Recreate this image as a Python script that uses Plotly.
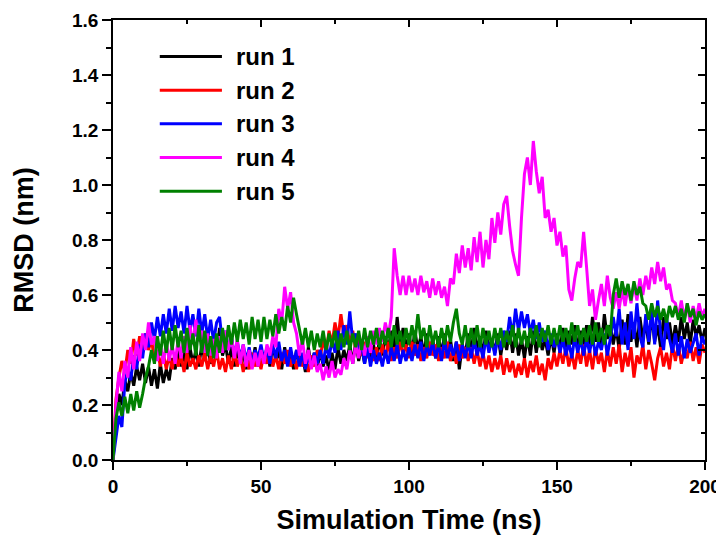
import plotly.graph_objects as go

time_ns = list(range(0, 201))

run1 = [
0.00, 0.17, 0.24, 0.20, 0.29, 0.25, 0.32, 0.27, 0.34, 0.29,
0.35, 0.28, 0.34, 0.27, 0.33, 0.26, 0.35, 0.28, 0.33, 0.29,
0.37, 0.33, 0.40, 0.34, 0.39, 0.33, 0.41, 0.35, 0.40, 0.34,
0.42, 0.36, 0.41, 0.35, 0.45, 0.37, 0.48, 0.38, 0.42, 0.35,
0.41, 0.34, 0.40, 0.35, 0.39, 0.33, 0.40, 0.35, 0.41, 0.34,
0.40, 0.35, 0.41, 0.34, 0.42, 0.36, 0.40, 0.33, 0.41, 0.35,
0.39, 0.33, 0.40, 0.35, 0.38, 0.32, 0.41, 0.34, 0.39, 0.33,
0.40, 0.34, 0.38, 0.32, 0.39, 0.33, 0.41, 0.35, 0.40, 0.36,
0.42, 0.35, 0.43, 0.36, 0.41, 0.35, 0.43, 0.37, 0.42, 0.36,
0.44, 0.38, 0.45, 0.40, 0.47, 0.39, 0.52, 0.41, 0.48, 0.40,
0.46, 0.39, 0.47, 0.40, 0.45, 0.38, 0.46, 0.39, 0.44, 0.37,
0.45, 0.38, 0.46, 0.39, 0.44, 0.36, 0.43, 0.33, 0.42, 0.38,
0.46, 0.39, 0.48, 0.40, 0.45, 0.38, 0.47, 0.40, 0.44, 0.39,
0.46, 0.38, 0.45, 0.40, 0.47, 0.39, 0.46, 0.38, 0.44, 0.37,
0.45, 0.38, 0.47, 0.39, 0.46, 0.40, 0.44, 0.38, 0.45, 0.39,
0.46, 0.40, 0.48, 0.41, 0.47, 0.42, 0.49, 0.40, 0.47, 0.41,
0.49, 0.42, 0.52, 0.43, 0.50, 0.41, 0.53, 0.44, 0.49, 0.42,
0.48, 0.40, 0.51, 0.42, 0.53, 0.43, 0.50, 0.41, 0.52, 0.44,
0.50, 0.42, 0.53, 0.43, 0.49, 0.41, 0.52, 0.44, 0.50, 0.42,
0.49, 0.43, 0.52, 0.44, 0.50, 0.42, 0.51, 0.45, 0.49, 0.43,
0.48]

run2 = [
0.00, 0.22, 0.30, 0.36, 0.32, 0.40, 0.35, 0.44, 0.38, 0.45,
0.39, 0.46, 0.40, 0.44, 0.36, 0.40, 0.34, 0.39, 0.33, 0.38,
0.33, 0.39, 0.34, 0.38, 0.32, 0.39, 0.34, 0.37, 0.33, 0.38,
0.34, 0.39, 0.33, 0.38, 0.34, 0.40, 0.33, 0.37, 0.32, 0.38,
0.33, 0.39, 0.34, 0.38, 0.32, 0.37, 0.33, 0.39, 0.34, 0.38,
0.33, 0.39, 0.35, 0.40, 0.34, 0.38, 0.33, 0.39, 0.35, 0.40,
0.34, 0.38, 0.33, 0.39, 0.34, 0.37, 0.32, 0.38, 0.34, 0.40,
0.37, 0.44, 0.39, 0.47, 0.42, 0.50, 0.44, 0.53, 0.45, 0.49,
0.42, 0.47, 0.40, 0.44, 0.38, 0.43, 0.37, 0.42, 0.36, 0.41,
0.36, 0.42, 0.37, 0.43, 0.36, 0.41, 0.37, 0.43, 0.38, 0.42,
0.37, 0.43, 0.38, 0.42, 0.36, 0.41, 0.37, 0.43, 0.38, 0.42,
0.36, 0.41, 0.37, 0.43, 0.36, 0.40, 0.35, 0.42, 0.37, 0.41,
0.36, 0.41, 0.35, 0.40, 0.34, 0.39, 0.33, 0.38, 0.32, 0.37,
0.33, 0.38, 0.31, 0.37, 0.32, 0.36, 0.30, 0.35, 0.31, 0.37,
0.30, 0.36, 0.32, 0.38, 0.31, 0.35, 0.29, 0.37, 0.33, 0.39,
0.34, 0.40, 0.35, 0.41, 0.34, 0.39, 0.33, 0.40, 0.35, 0.42,
0.34, 0.40, 0.33, 0.41, 0.35, 0.39, 0.32, 0.40, 0.34, 0.41,
0.35, 0.42, 0.32, 0.39, 0.34, 0.41, 0.30, 0.38, 0.35, 0.42,
0.33, 0.40, 0.35, 0.29, 0.37, 0.41, 0.34, 0.39, 0.33, 0.42,
0.36, 0.42, 0.35, 0.40, 0.37, 0.43, 0.36, 0.41, 0.35, 0.42,
0.39]

run3 = [
0.00, 0.09, 0.16, 0.12, 0.28, 0.33, 0.29, 0.38, 0.33, 0.42,
0.37, 0.46, 0.41, 0.50, 0.44, 0.52, 0.45, 0.53, 0.46, 0.55,
0.47, 0.56, 0.48, 0.54, 0.46, 0.56, 0.47, 0.53, 0.45, 0.55,
0.46, 0.53, 0.44, 0.51, 0.43, 0.50, 0.52, 0.42, 0.47, 0.40,
0.45, 0.38, 0.43, 0.37, 0.42, 0.36, 0.41, 0.35, 0.40, 0.37,
0.42, 0.36, 0.41, 0.35, 0.42, 0.37, 0.43, 0.36, 0.40, 0.34,
0.41, 0.35, 0.40, 0.34, 0.39, 0.33, 0.38, 0.34, 0.39, 0.35,
0.40, 0.35, 0.42, 0.37, 0.44, 0.39, 0.47, 0.40, 0.49, 0.42,
0.54, 0.43, 0.46, 0.38, 0.42, 0.35, 0.41, 0.34, 0.40, 0.35,
0.39, 0.34, 0.40, 0.35, 0.41, 0.36, 0.42, 0.35, 0.40, 0.36,
0.41, 0.36, 0.42, 0.37, 0.43, 0.36, 0.42, 0.38, 0.43, 0.37,
0.42, 0.36, 0.44, 0.37, 0.42, 0.38, 0.43, 0.36, 0.42, 0.37,
0.43, 0.37, 0.44, 0.38, 0.42, 0.37, 0.45, 0.39, 0.44, 0.38,
0.45, 0.40, 0.47, 0.43, 0.52, 0.45, 0.55, 0.47, 0.54, 0.48,
0.53, 0.46, 0.51, 0.44, 0.50, 0.43, 0.47, 0.40, 0.46, 0.41,
0.45, 0.39, 0.44, 0.38, 0.43, 0.37, 0.45, 0.39, 0.44, 0.38,
0.44, 0.39, 0.45, 0.38, 0.43, 0.40, 0.46, 0.38, 0.44, 0.52,
0.45, 0.55, 0.42, 0.50, 0.40, 0.54, 0.44, 0.57, 0.45, 0.41,
0.53, 0.43, 0.55, 0.42, 0.58, 0.46, 0.40, 0.52, 0.44, 0.39,
0.46, 0.38, 0.45, 0.37, 0.44, 0.39, 0.43, 0.46, 0.38, 0.45,
0.42]

run4 = [
0.00, 0.20, 0.32, 0.25, 0.36, 0.30, 0.41, 0.33, 0.43, 0.36,
0.46, 0.40, 0.50, 0.42, 0.45, 0.36, 0.42, 0.35, 0.43, 0.36,
0.42, 0.35, 0.44, 0.37, 0.45, 0.39, 0.49, 0.42, 0.51, 0.43,
0.47, 0.39, 0.46, 0.38, 0.44, 0.37, 0.45, 0.39, 0.47, 0.40,
0.45, 0.37, 0.44, 0.35, 0.42, 0.34, 0.40, 0.33, 0.39, 0.34,
0.40, 0.35, 0.42, 0.38, 0.45, 0.41, 0.55, 0.50, 0.63, 0.55,
0.61, 0.50, 0.46, 0.38, 0.44, 0.35, 0.40, 0.33, 0.38, 0.32,
0.35, 0.29, 0.34, 0.30, 0.36, 0.30, 0.33, 0.31, 0.37, 0.33,
0.40, 0.35, 0.42, 0.37, 0.44, 0.38, 0.45, 0.39, 0.47, 0.42,
0.48, 0.43, 0.50, 0.45, 0.52, 0.77, 0.67, 0.60, 0.67, 0.60,
0.67, 0.61, 0.66, 0.60, 0.67, 0.61, 0.65, 0.59, 0.66, 0.60,
0.65, 0.59, 0.63, 0.56, 0.66, 0.64, 0.75, 0.68, 0.78, 0.70,
0.77, 0.69, 0.81, 0.72, 0.83, 0.70, 0.80, 0.73, 0.88, 0.79,
0.90, 0.82, 0.93, 0.96, 0.85, 0.76, 0.71, 0.67, 0.88, 1.04,
1.10, 1.00, 1.16, 1.05, 0.97, 1.03, 0.88, 0.91, 0.83, 0.88,
0.78, 0.83, 0.74, 0.78, 0.62, 0.58, 0.66, 0.72, 0.70, 0.83,
0.70, 0.56, 0.62, 0.51, 0.58, 0.64, 0.56, 0.67, 0.59, 0.55,
0.61, 0.55, 0.62, 0.56, 0.63, 0.57, 0.64, 0.58, 0.66, 0.60,
0.67, 0.62, 0.70, 0.64, 0.72, 0.65, 0.70, 0.62, 0.64, 0.58,
0.57, 0.52, 0.58, 0.51, 0.57, 0.50, 0.56, 0.51, 0.57, 0.52,
0.55]

run5 = [
0.00, 0.15, 0.21, 0.16, 0.23, 0.17, 0.24, 0.18, 0.25, 0.19,
0.24, 0.30, 0.34, 0.40, 0.35, 0.45, 0.38, 0.47, 0.39, 0.48,
0.40, 0.49, 0.41, 0.47, 0.39, 0.48, 0.40, 0.46, 0.38, 0.49,
0.39, 0.47, 0.38, 0.45, 0.37, 0.46, 0.39, 0.48, 0.40, 0.49,
0.42, 0.50, 0.43, 0.51, 0.44, 0.50, 0.42, 0.52, 0.44, 0.51,
0.43, 0.52, 0.44, 0.51, 0.45, 0.53, 0.46, 0.52, 0.47, 0.56,
0.50, 0.59, 0.53, 0.47, 0.42, 0.48, 0.41, 0.47, 0.40, 0.46,
0.41, 0.47, 0.40, 0.46, 0.41, 0.47, 0.40, 0.46, 0.41, 0.47,
0.40, 0.46, 0.41, 0.47, 0.40, 0.48, 0.41, 0.47, 0.42, 0.48,
0.41, 0.47, 0.42, 0.48, 0.41, 0.49, 0.42, 0.47, 0.41, 0.48,
0.42, 0.49, 0.43, 0.53, 0.44, 0.48, 0.41, 0.49, 0.42, 0.47,
0.41, 0.48, 0.42, 0.49, 0.43, 0.50, 0.55, 0.46, 0.42, 0.49,
0.41, 0.48, 0.42, 0.49, 0.41, 0.48, 0.42, 0.47, 0.41, 0.48,
0.42, 0.48, 0.41, 0.47, 0.42, 0.49, 0.41, 0.48, 0.42, 0.47,
0.41, 0.48, 0.42, 0.49, 0.41, 0.48, 0.43, 0.49, 0.42, 0.48,
0.42, 0.49, 0.43, 0.48, 0.42, 0.50, 0.43, 0.49, 0.42, 0.48,
0.43, 0.49, 0.42, 0.50, 0.43, 0.48, 0.42, 0.49, 0.45, 0.60,
0.66, 0.59, 0.65, 0.60, 0.64, 0.58, 0.65, 0.60, 0.63, 0.57,
0.56, 0.51, 0.57, 0.52, 0.56, 0.51, 0.55, 0.50, 0.56, 0.52,
0.56, 0.51, 0.55, 0.50, 0.57, 0.52, 0.55, 0.49, 0.54, 0.51,
0.53]

series_names = ["run 1", "run 2", "run 3", "run 4", "run 5"]
series_values = [run1, run2, run3, run4, run5]
series_colors = ["#000000", "#ff0000", "#0000ff", "#ff00ff", "#008000"]

x_ticks = [0, 50, 100, 150, 200]
y_ticks = [0.0, 0.2, 0.4, 0.6, 0.8, 1.0, 1.2, 1.4, 1.6]
y_ticklabels = ["0.0", "0.2", "0.4", "0.6", "0.8", "1.0", "1.2", "1.4", "1.6"]

FONT = "Liberation Sans"

fig = go.Figure()
for name, vals, col in zip(series_names, series_values, series_colors):
    fig.add_trace(go.Scatter(
        x=time_ns, y=vals, mode="lines", name=name,
        line=dict(color=col, width=3), showlegend=False,
    ))

# helper trace so the mirrored (inward-tick) axes get drawn
fig.add_trace(go.Scatter(x=[None], y=[None], xaxis="x2", yaxis="y2",
                         showlegend=False, hoverinfo="skip"))

# legend drawn in paper coordinates (line sample + bold label)
leg_x0, leg_x1, leg_tx = 0.079, 0.184, 0.205
leg_y0, leg_dy = 0.917, 0.0765
for i, (name, col) in enumerate(zip(series_names, series_colors)):
    yy = leg_y0 - i * leg_dy
    fig.add_shape(type="line", xref="paper", yref="paper",
                  x0=leg_x0, x1=leg_x1, y0=yy, y1=yy,
                  line=dict(color=col, width=3))
    fig.add_annotation(xref="paper", yref="paper", x=leg_tx, y=yy,
                       text=name, showarrow=False, xanchor="left", yanchor="middle",
                       font=dict(family=FONT, size=24, color="black", weight="bold"))

tickfont = dict(family=FONT, size=19, color="black", weight="bold")
titlefont = dict(family=FONT, size=27, color="black", weight="bold")

# the page body adds an 8px offset, so the figure is 16px smaller than the window
fig.update_layout(
    width=716, height=531,
    margin=dict(l=105, r=19, t=12, b=79),
    paper_bgcolor="white", plot_bgcolor="white",
    showlegend=False,
    xaxis=dict(
        range=[0, 200], tickvals=x_ticks, ticktext=[str(v) for v in x_ticks],
        ticks="outside", ticklen=8, tickwidth=1.5, tickcolor="black",
        minor=dict(dtick=25, ticks="outside", ticklen=4, tickwidth=1.5, tickcolor="black"),
        showline=True, linecolor="black", linewidth=1.5, mirror=True,
        showgrid=False, zeroline=False, automargin=False,
        tickfont=tickfont,
        title=dict(text="Simulation Time (ns)", font=titlefont, standoff=15),
    ),
    yaxis=dict(
        range=[0, 1.6], tickvals=y_ticks, ticktext=y_ticklabels,
        ticks="outside", ticklen=9, tickwidth=1.5, tickcolor="black",
        minor=dict(dtick=0.1, ticks="outside", ticklen=5, tickwidth=1.5, tickcolor="black"),
        showline=True, linecolor="black", linewidth=1.5, mirror=True,
        showgrid=False, zeroline=False, automargin=False,
        tickfont=tickfont,
        title=dict(text="RMSD (nm)", font=titlefont, standoff=31),
    ),
    xaxis2=dict(
        overlaying="x", side="top", range=[0, 200], tickvals=x_ticks,
        ticks="inside", ticklen=7, tickwidth=1.5, tickcolor="black",
        minor=dict(dtick=25, ticks="inside", ticklen=4, tickwidth=1.5, tickcolor="black"),
        showticklabels=False, showgrid=False, zeroline=False, showline=False,
        automargin=False,
    ),
    yaxis2=dict(
        overlaying="y", side="right", range=[0, 1.6], tickvals=y_ticks,
        ticks="inside", ticklen=7, tickwidth=1.5, tickcolor="black",
        minor=dict(dtick=0.1, ticks="inside", ticklen=4, tickwidth=1.5, tickcolor="black"),
        showticklabels=False, showgrid=False, zeroline=False, showline=False,
        automargin=False,
    ),
)

fig.write_html("out.html")
